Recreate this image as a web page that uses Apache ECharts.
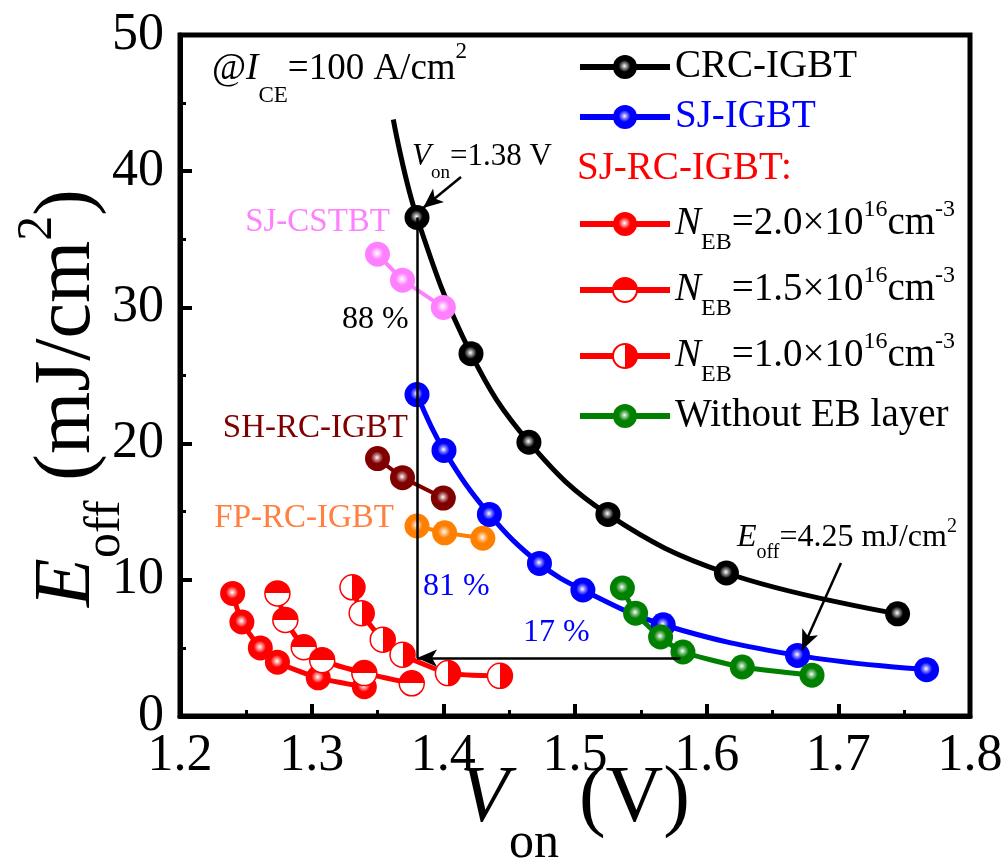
<!DOCTYPE html>
<html>
<head>
<meta charset="utf-8">
<script src="https://cdn.jsdelivr.net/npm/echarts@6/dist/echarts.min.js"></script>
<style>
  html, body { margin: 0; padding: 0; background: #fff; }
  #chart { width: 1007px; height: 864px; }
</style>
</head>
<body>
<div id="chart"></div>
<script>
// values: V_on (V) and E_off (mJ/cm2)
const crcV = [1.362, 1.380, 1.421, 1.465, 1.525, 1.615, 1.745];
const crcE = [43.8, 36.6, 26.6, 20.1, 14.8, 10.5, 7.5];
const sjV = [1.380, 1.4005, 1.435, 1.473, 1.506, 1.567, 1.669, 1.767];
const sjE = [23.6, 19.5, 14.8, 11.2, 9.25, 6.7, 4.45, 3.4];
const noEbV = [1.536, 1.546, 1.565, 1.582, 1.627, 1.680];
const noEbE = [9.4, 7.55, 5.8, 4.7, 3.6, 3.0];
const eb20V = [1.240, 1.247, 1.261, 1.274, 1.305, 1.340];
const eb20E = [9.0, 6.9, 5.0, 3.95, 2.8, 2.15];
const eb15V = [1.274, 1.280, 1.294, 1.308, 1.340, 1.376];
const eb15E = [9.0, 7.05, 5.05, 4.1, 3.15, 2.4];
const eb10V = [1.331, 1.338, 1.354, 1.369, 1.4035, 1.443];
const eb10E = [9.45, 7.55, 5.6, 4.5, 3.15, 2.95];
const cstbtV = [1.350, 1.369, 1.400];
const cstbtE = [33.9, 32.0, 30.0];
const shrcV = [1.350, 1.369, 1.400];
const shrcE = [18.9, 17.5, 16.0];
const fprcV = [1.380, 1.401, 1.430];
const fprcE = [13.95, 13.45, 13.05];

// guide lines / arrows: [x1, y1, x2, y2]
const vonLine = [1.38, 36.6, 1.38, 4.25];
const eoffLine = [1.58, 4.25, 1.38, 4.25];
const vonArrow = [1.4134, 39.57, 1.3846, 37.3];
const eoffArrow = [1.702, 11.23, 1.6724, 4.85];

const SERIF = "'Liberation Serif', 'Times New Roman', serif";

function pts(xs, ys) {
    return xs.map((x, i) => [x, ys[i]]);
}

// rich text styles, sub/superscript shifted with padding
function rs(F, dn, up, color, H) {
    const f = Math.round(F * 0.62);
    const b = { fontFamily: SERIF, fontSize: F, color: color, fill: color, lineHeight: H };
    return {
        r: b,
        i: Object.assign({}, b, { fontStyle: 'italic' }),
        s: { fontFamily: SERIF, fontSize: f, color: color, fill: color, lineHeight: f, padding: [2 * dn, 0, 0, 0] },
        p: { fontFamily: SERIF, fontSize: f, color: color, fill: color, lineHeight: f, padding: [0, 0, 2 * up, 0] }
    };
}

function ball(c, mid) {
    return {
        type: 'radial', x: 0.48, y: 0.46, r: 0.55,
        colorStops: [
            { offset: 0, color: '#ffffff' },
            { offset: 0.2, color: mid },
            { offset: 0.45, color: c },
            { offset: 1, color: c }
        ]
    };
}

function half(vertical) {
    const s = vertical
        ? [{ offset: 0, color: '#fff' }, { offset: 0.5, color: '#fff' }, { offset: 0.5, color: '#ff0000' }, { offset: 1, color: '#ff0000' }]
        : [{ offset: 0, color: '#ff0000' }, { offset: 0.5, color: '#ff0000' }, { offset: 0.5, color: '#fff' }, { offset: 1, color: '#fff' }];
    return { type: 'linear', x: 0, y: 0, x2: vertical ? 1 : 0, y2: vertical ? 0 : 1, colorStops: s };
}

function curve(name, data, lineColor, fill, width, smooth, border) {
    return {
        type: 'line',
        name: name,
        data: data,
        symbol: 'circle',
        symbolSize: 25,
        smooth: smooth,
        lineStyle: { color: lineColor, width: width },
        itemStyle: { color: fill, borderColor: lineColor, borderWidth: border ? 1.5 : 0 },
        emphasis: { disabled: true },
        silent: true
    };
}

function guide(seg, arrow) {
    return [
        { coord: [seg[0], seg[1]], symbol: 'none' },
        { coord: [seg[2], seg[3]], symbol: arrow ? 'arrow' : 'none', symbolSize: [13, 20] }
    ];
}

const crcData = pts(crcV, crcE);
crcData[0] = { value: crcData[0], symbol: 'none' };

const legendRows = [
    { name: 'CRC-IGBT', y: 67, text: '{r|CRC-IGBT}', color: '#000' },
    { name: 'SJ-IGBT', y: 117, text: '{r|SJ-IGBT}', color: '#0000ff' },
    { name: 'EB20', y: 223, text: '{i|N}{s|EB}{r|=2.0×10}{p|16}{r|cm}{p|-3}', color: '#000' },
    { name: 'EB15', y: 289, text: '{i|N}{s|EB}{r|=1.5×10}{p|16}{r|cm}{p|-3}', color: '#000' },
    { name: 'EB10', y: 355, text: '{i|N}{s|EB}{r|=1.0×10}{p|16}{r|cm}{p|-3}', color: '#000' },
    { name: 'Without EB layer', y: 416, text: '{r|Without EB layer}', color: '#000' }
];
const LF = 39, LH = 60;

const chart = echarts.init(document.getElementById('chart'), null, { renderer: 'canvas' });

const option = {
    animation: false,
    backgroundColor: '#fff',
    grid: { left: 180, right: 37, top: 35, bottom: 148, show: true, borderColor: '#000', borderWidth: 5 },
    xAxis: {
        type: 'value', min: 1.2, max: 1.8, interval: 0.1,
        axisLine: { onZero: false, lineStyle: { color: '#000', width: 5 } },
        axisTick: { inside: true, length: 12, lineStyle: { color: '#000', width: 4 } },
        minorTick: { show: true, splitNumber: 2, length: 6, lineStyle: { color: '#000', width: 3 } },
        splitLine: { show: false },
        axisLabel: { fontFamily: SERIF, fontSize: 52, color: '#000', margin: 14, formatter: v => v.toFixed(1) }
    },
    yAxis: {
        type: 'value', min: 0, max: 50, interval: 10,
        axisLine: { onZero: false, lineStyle: { color: '#000', width: 5 } },
        axisTick: { inside: true, length: 12, lineStyle: { color: '#000', width: 4 } },
        minorTick: { show: true, splitNumber: 2, length: 6, lineStyle: { color: '#000', width: 3 } },
        splitLine: { show: false },
        axisLabel: { fontFamily: SERIF, fontSize: 52, color: '#000', margin: 16 }
    },
    legend: legendRows.map(r => ({
        left: 577, top: r.y - LH / 2, padding: 0,
        itemWidth: 90, itemHeight: 30, selectedMode: false,
        lineStyle: { width: 6 },
        data: [r.name],
        formatter: () => r.text,
        textStyle: { lineHeight: LH, fontSize: LF, fontFamily: SERIF, color: r.color, rich: rs(LF, 19, 14, r.color, LH) }
    })),
    series: [
        {
            type: 'line', name: 'guides', data: [], silent: true,
            markLine: {
                silent: true, animation: false, label: { show: false },
                lineStyle: { color: '#000', width: 2.5, type: 'solid' },
                emphasis: { disabled: true },
                data: [guide(vonLine, false), guide(eoffLine, true), guide(vonArrow, true), guide(eoffArrow, true)]
            }
        },
        curve('SJ-CSTBT', pts(cstbtV, cstbtE), '#ff80ff', ball('#ff80ff', '#ffc8ff'), 4, 0),
        curve('SH-RC-IGBT', pts(shrcV, shrcE), '#800000', ball('#800000', '#c08080'), 4, 0),
        curve('FP-RC-IGBT', pts(fprcV, fprcE), '#ff8000', ball('#ff8000', '#ffc080'), 4, 0),
        curve('CRC-IGBT', crcData, '#000', ball('#000', '#8a8a8a'), 5, 0.4),
        curve('SJ-IGBT', pts(sjV, sjE), '#0000ff', ball('#0000ff', '#8080ff'), 5, 0.4),
        curve('Without EB layer', pts(noEbV, noEbE), '#008000', ball('#008000', '#80c080'), 5, 0.2),
        curve('EB20', pts(eb20V, eb20E), '#ff0000', ball('#ff0000', '#ff9090'), 5, 0.2),
        curve('EB15', pts(eb15V, eb15E), '#ff0000', half(false), 5, 0.2, true),
        curve('EB10', pts(eb10V, eb10E), '#ff0000', half(true), 5, 0.2, true)
    ],
    graphic: [
        { type: 'text', x: 575, y: 800, silent: true,
          style: { text: '{i|V}{s|on}{r| (V)}', rich: rs(80, 44, 0, '#000', 100), align: 'center', verticalAlign: 'middle' } },
        { type: 'text', x: 68, y: 398, rotation: Math.PI / 2, silent: true,
          style: { text: '{i|E}{s|off}{r| (mJ/cm}{p|2}{r|)}', rich: rs(80, 38, 30, '#000', 100), align: 'center', verticalAlign: 'middle' } },
        { type: 'text', x: 212, y: 69, silent: true,
          style: { text: '{r|@}{i|I}{s|CE}{r|=100 A/cm}{p|2}', rich: rs(37, 27, 17, '#000', 50), align: 'left', verticalAlign: 'middle' } },
        { type: 'text', x: 412, y: 157, silent: true,
          style: { text: '{i|V}{s|on}{r|=1.38 V}', rich: rs(31, 16, 12, '#000', 40), align: 'left', verticalAlign: 'middle' } },
        { type: 'text', x: 737, y: 538, silent: true,
          style: { text: '{i|E}{s|off}{r|=4.25 mJ/cm}{p|2}', rich: rs(32, 15, 11, '#000', 40), align: 'left', verticalAlign: 'middle' } },
        { type: 'text', x: 577, y: 169, silent: true,
          style: { text: 'SJ-RC-IGBT:', fill: '#ff0000', fontSize: 39, fontFamily: SERIF, align: 'left', verticalAlign: 'middle' } },
        { type: 'text', x: 390, y: 222, silent: true,
          style: { text: 'SJ-CSTBT', fill: '#ff80ff', fontSize: 33, fontFamily: SERIF, align: 'right', verticalAlign: 'middle' } },
        { type: 'text', x: 408, y: 428, silent: true,
          style: { text: 'SH-RC-IGBT', fill: '#800000', fontSize: 33, fontFamily: SERIF, align: 'right', verticalAlign: 'middle' } },
        { type: 'text', x: 394, y: 518, silent: true,
          style: { text: 'FP-RC-IGBT', fill: '#ff8040', fontSize: 33, fontFamily: SERIF, align: 'right', verticalAlign: 'middle' } },
        { type: 'text', x: 342, y: 320, silent: true,
          style: { text: '88 %', fill: '#000', fontSize: 32, fontFamily: SERIF, align: 'left', verticalAlign: 'middle' } },
        { type: 'text', x: 423, y: 587, silent: true,
          style: { text: '81 %', fill: '#0000ff', fontSize: 32, fontFamily: SERIF, align: 'left', verticalAlign: 'middle' } },
        { type: 'text', x: 523, y: 633, silent: true,
          style: { text: '17 %', fill: '#0000ff', fontSize: 32, fontFamily: SERIF, align: 'left', verticalAlign: 'middle' } }
    ]
};

chart.setOption(option);
</script>
</body>
</html>
